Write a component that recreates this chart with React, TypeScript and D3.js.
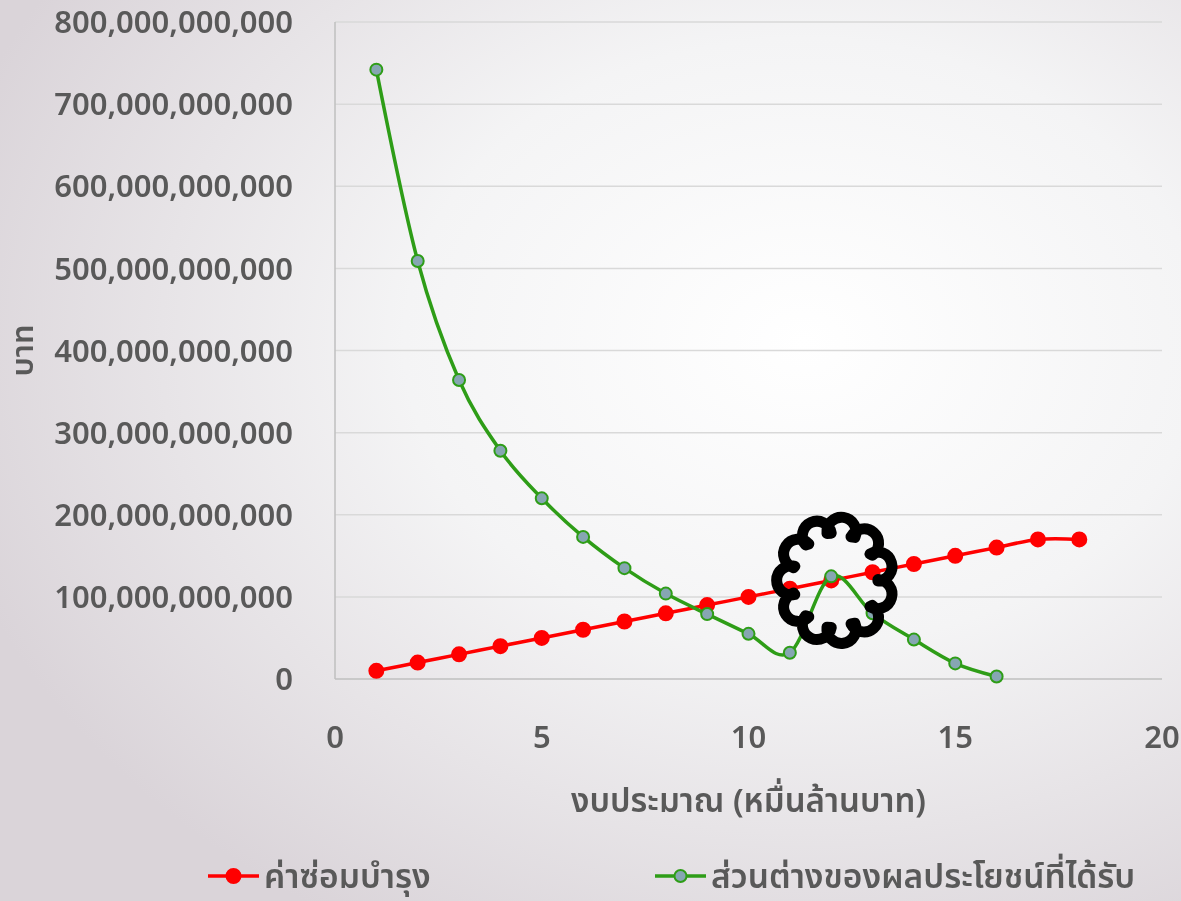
import React from 'react';
import * as d3 from 'd3';

// budget (ten-billion baht units)
const xs = [1, 2, 3, 4, 5, 6, 7, 8, 9, 10, 11, 12, 13, 14, 15, 16, 17, 18];
// maintenance cost (baht)
const maintenance = [10, 20, 30, 40, 50, 60, 70, 80, 90, 100, 110, 120, 130, 140, 150, 160, 170, 170].map(v => v * 1e9);
// benefit difference (baht)
const benefit = [742, 509, 364, 278, 220, 173, 135, 104, 79, 55, 32, 125, 80, 48, 19, 3].map(v => v * 1e9);

const xTicks = [0, 5, 10, 15, 20];
const yTicks = [0, 1e11, 2e11, 3e11, 4e11, 5e11, 6e11, 7e11, 8e11];

const series = [
  { name: 'ค่าซ่อมบำรุง', values: maintenance, stroke: '#ff0000', fill: '#ff0000', r: 7 },
  { name: 'ส่วนต่างของผลประโยชน์ที่ได้รับ', values: benefit, stroke: '#2e9d17', fill: '#86a6b2', r: 6 },
];

const W = 1181, H = 901;
const m = { left: 335, right: 19, top: 22, bottom: 222 };
const FONT = '"Noto Sans", "Noto Sans Thai", Tahoma, sans-serif';
const TXT = '#595959';

export default function App() {
  const x = d3.scaleLinear().domain([0, 20]).range([m.left, W - m.right]);
  const y = d3.scaleLinear().domain([0, 8e11]).range([H - m.bottom, m.top]);
  const fmt = d3.format(',');

  const line = (vals: number[]) =>
    d3.line<number>().x((_, i) => x(xs[i])).y(d => y(d)).curve(d3.curveCardinal.tension(0))(vals) || '';

  // cloud callout around the peak at x = 12
  const cx = x(12) + 4, cy = y(benefit[11]) + 4, R = 47, n = 11;
  const p = d3.path();
  for (let i = 0; i < n; i++) {
    const a0 = (i / n) * 2 * Math.PI, a1 = ((i + 1) / n) * 2 * Math.PI;
    const am = (a0 + a1) / 2;
    const br = R * Math.sin(Math.PI / n) * 1.1;
    const bx = cx + (R - 3) * Math.cos(am), by = cy + (R + 2) * Math.sin(am);
    p.arc(bx, by, br, am - Math.PI / 2 - 0.25, am + Math.PI / 2 + 0.25);
  }
  p.closePath();

  return (
    <div style={{ position: 'fixed', inset: 0 }}>
      <svg width={W} height={H} style={{ display: 'block' }} fontFamily={FONT}>
        <defs>
          <radialGradient id="bg" cx="0.68" cy="0.38" r="0.75">
            <stop offset="0" stopColor="#ffffff" />
            <stop offset="0.45" stopColor="#f4f4f5" />
            <stop offset="1" stopColor="#dad4d9" />
          </radialGradient>
        </defs>
        <rect width={W} height={H} fill="url(#bg)" />

        {yTicks.map(t => (
          <g key={t}>
            {t > 0 && (
              <line x1={x(0)} x2={x(20)} y1={y(t)} y2={y(t)} stroke="#d9d9d9" strokeWidth={1.5} />
            )}
            <text x={293} y={y(t)} dy="0.36em" textAnchor="end" fontSize={31} fontWeight={600} fill={TXT}>
              {fmt(t)}
            </text>
          </g>
        ))}
        <line x1={x(0)} x2={x(0)} y1={y(8e11)} y2={y(0)} stroke="#bfbfbf" strokeWidth={1.5} />
        <line x1={x(0)} x2={x(20)} y1={y(0)} y2={y(0)} stroke="#bfbfbf" strokeWidth={1.5} />

        {xTicks.map(t => (
          <text key={t} x={x(t)} y={748} textAnchor="middle" fontSize={31} fontWeight={600} fill={TXT}>
            {t}
          </text>
        ))}

        <text x={x(10)} y={812} textAnchor="middle" fontSize={33} fontWeight={600} fill={TXT}>
          งบประมาณ (หมื่นล้านบาท)
        </text>
        <text transform={`translate(33,${y(4e11)}) rotate(-90)`} textAnchor="middle" fontSize={31} fontWeight={600} fill={TXT}>
          บาท
        </text>

        {series.map(s => (
          <g key={s.name}>
            <path d={line(s.values)} fill="none" stroke={s.stroke} strokeWidth={3.5} />
            {s.values.map((v, i) => (
              <circle key={i} cx={x(xs[i])} cy={y(v)} r={s.r} fill={s.fill} stroke={s.stroke} strokeWidth={2} />
            ))}
          </g>
        ))}

        <path d={p.toString()} fill="none" stroke="#000" strokeWidth={11} strokeLinejoin="round" strokeLinecap="round" />

        {series.map((s, i) => {
          const lx = i === 0 ? 208 : 655;
          return (
            <g key={s.name} transform={`translate(${lx},876)`}>
              <line x1={0} x2={51} y1={0} y2={0} stroke={s.stroke} strokeWidth={3.5} />
              <circle cx={25.5} cy={0} r={s.r} fill={s.fill} stroke={s.stroke} strokeWidth={2} />
              <text x={56} y={0} dy="0.36em" fontSize={33.5} fontWeight={600} fill={TXT}>
                {s.name}
              </text>
            </g>
          );
        })}
      </svg>
    </div>
  );
}
